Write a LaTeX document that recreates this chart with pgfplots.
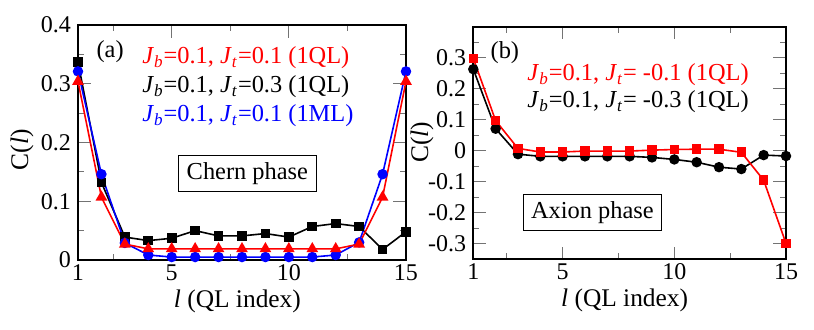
\documentclass[border=0pt]{standalone}
\usepackage{fontspec}
\setmainfont{Liberation Serif}
\usepackage{pgfplots}
\pgfplotsset{compat=1.18}

\newcommand{\Jb}{\textit{J}\textsubscript{\textit{b}}}
\newcommand{\Jt}{\textit{J}\textsubscript{\textit{t}}}
\newcommand{\lbl}{\fontsize{12.2}{14}\selectfont}
\newcommand{\axl}{\fontsize{12.7}{14}\selectfont}

\pgfplotsset{
  panel/.style={
    scale only axis,
    xmin=1, xmax=15,
    xtick={1,5,10,15},
    minor xtick={2.5,7.5,12.5},
    tick align=inside,
    major tick length=6.3pt,
    minor tick length=3pt,
    tick style={black!55, line width=0.6pt},
    axis line style={line width=0.9pt},
    tick label style={font=\fontsize{12}{14}\selectfont},
    xticklabel style={inner ysep=2pt},
    /pgf/number format/assume math mode=true,
    yticklabel style={/pgf/number format/fixed, /pgf/number format/precision=1},
    clip=false,
    every axis plot/.append style={line width=0.8pt},
  },
}

\begin{document}
\begin{tikzpicture}
\useasboundingbox (-39pt,-35pt) rectangle (368pt,130pt);

% (a) Chern phase
\begin{axis}[panel,
    at={(0pt,0pt)}, anchor=south west,
    width=164pt, height=117.5pt,
    ymin=0, ymax=0.4,
    ytick={0,0.1,0.2,0.3,0.4},
    minor ytick={0.05,0.15,0.25,0.35},
    xlabel={\textit{l} (QL index)},
    ylabel={C(\textit{l})},
    every axis x label/.style={at={(rel axis cs:0.486,-0.178)}, anchor=center, font=\axl, inner sep=1pt},
    every axis y label/.style={at={(rel axis cs:-0.171,0.47)}, anchor=center, rotate=90, font=\axl},
]
\addplot[black, mark=square*, mark size=2pt] coordinates {
  (1,0.337) (2,0.132) (3,0.039) (4,0.033) (5,0.037) (6,0.050) (7,0.041)
  (8,0.041) (9,0.045) (10,0.039) (11,0.057) (12,0.062) (13,0.057) (14,0.018) (15,0.048)
};
\addplot[blue, mark=*, mark size=2.2pt] coordinates {
  (1,0.321) (2,0.146) (3,0.029) (4,0.0085) (5,0.005) (6,0.005) (7,0.005)
  (8,0.005) (9,0.005) (10,0.005) (11,0.005) (12,0.0085) (13,0.030) (14,0.146) (15,0.321)
};
\addplot[red, mark=triangle*, mark size=2.6pt] coordinates {
  (1,0.304) (2,0.107) (3,0.027) (4,0.019) (5,0.019) (6,0.019) (7,0.019)
  (8,0.019) (9,0.019) (10,0.019) (11,0.019) (12,0.019) (13,0.027) (14,0.107) (15,0.304)
};
\node[font=\lbl] at (rel axis cs:0.098,0.885) {(a)};
\node[font=\lbl, anchor=west, text=red, inner sep=0pt] at (rel axis cs:0.195,0.86) {\Jb=0.1, \Jt=0.1 (1QL)};
\node[font=\lbl, anchor=west, inner sep=0pt] at (rel axis cs:0.195,0.736) {\Jb=0.1, \Jt=0.3 (1QL)};
\node[font=\lbl, anchor=west, text=blue, inner sep=0pt] at (rel axis cs:0.195,0.613) {\Jb=0.1, \Jt=0.1 (1ML)};
\node[font=\lbl, draw, line width=0.5pt, inner xsep=4pt, inner ysep=3.5pt] at (axis cs:8.23,0.147) {Chern phase};
\end{axis}

% (b) Axion phase
\begin{axis}[panel,
    at={(197.65pt,0.35pt)}, anchor=south west,
    width=156.35pt, height=116.3pt,
    ymin=-0.35, ymax=0.4,
    ytick={-0.3,-0.2,-0.1,0,0.1,0.2,0.3},
    minor ytick={-0.25,-0.15,-0.05,0.05,0.15,0.25,0.35},
    xlabel={\textit{l} (QL index)},
    ylabel={C(\textit{l})},
    every axis x label/.style={at={(rel axis cs:0.484,-0.178)}, anchor=center, font=\axl, inner sep=1pt},
    every axis y label/.style={at={(rel axis cs:-0.164,0.504)}, anchor=center, rotate=90, font=\axl},
]
\addplot[black, mark=*, mark size=2.2pt] coordinates {
  (1,0.263) (2,0.071) (3,-0.011) (4,-0.018) (5,-0.018) (6,-0.018) (7,-0.018)
  (8,-0.018) (9,-0.0215) (10,-0.028) (11,-0.037) (12,-0.053) (13,-0.059) (14,-0.014) (15,-0.017)
};
\addplot[red, mark=square*, mark size=2pt] coordinates {
  (1,0.298) (2,0.097) (3,0.0075) (4,-0.004) (5,-0.004) (6,-0.001) (7,-0.001)
  (8,-0.001) (9,0.002) (10,0.004) (11,0.005) (12,0.005) (13,-0.005) (14,-0.095) (15,-0.299)
};
\node[font=\lbl] at (rel axis cs:0.101,0.887) {(b)};
\node[font=\lbl, anchor=west, text=red, inner sep=0pt] at (rel axis cs:0.172,0.792) {\Jb=0.1, \Jt= -0.1 (1QL)};
\node[font=\lbl, anchor=west, inner sep=0pt] at (rel axis cs:0.172,0.676) {\Jb=0.1, \Jt= -0.3 (1QL)};
\node[font=\lbl, draw, line width=0.5pt, inner xsep=4pt, inner ysep=3.5pt] at (axis cs:6.33,-0.199) {Axion phase};
\end{axis}
\end{tikzpicture}
\end{document}
